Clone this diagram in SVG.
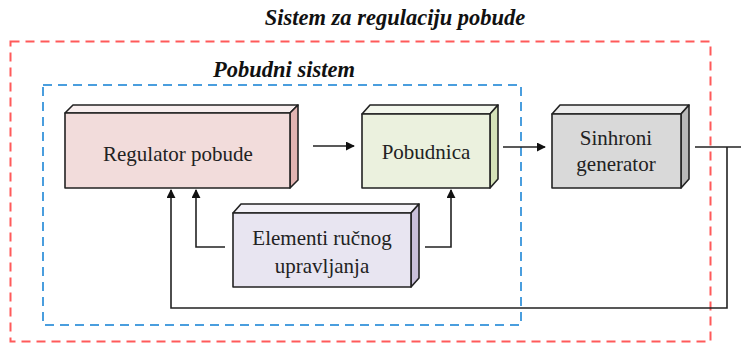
<svg xmlns="http://www.w3.org/2000/svg" width="741" height="343" viewBox="0 0 741 343">
<style>
.lbl{font-family:'Liberation Serif','DejaVu Serif',serif;font-size:21px;fill:#222;text-anchor:middle}
.ttl{font-family:'Liberation Serif','DejaVu Serif',serif;font-size:22.5px;font-weight:bold;font-style:italic;fill:#111;text-anchor:middle}
.edge{stroke:#222;stroke-width:1.6;fill:none}
.bx{stroke:#222;stroke-width:1.6;stroke-linejoin:round}
</style>
<defs>
<marker id="ah" viewBox="0 0 10 10" refX="9" refY="5" markerWidth="9" markerHeight="9" markerUnits="userSpaceOnUse" orient="auto">
<path d="M0,0 L10,5 L0,10 z" fill="#111"/>
</marker>
</defs>
<rect x="0" y="0" width="741" height="343" fill="#fff"/>
<text class="ttl" x="395" y="25">Sistem za regulaciju pobude</text>
<rect x="10.5" y="41.5" width="700" height="300" fill="none" stroke="#ff5a5a" stroke-width="2" stroke-dasharray="9,6"/>
<text class="ttl" x="284" y="77">Pobudni sistem</text>
<rect x="43" y="85" width="478" height="240" fill="none" stroke="#4a9ede" stroke-width="2" stroke-dasharray="9,6"/>

<g id="regulator">
<polygon class="bx" points="65,113 73,105 298,105 290,113" fill="#f8eeee"/>
<polygon class="bx" points="290,113 298,105 298,180 290,188" fill="#e2b4b2"/>
<rect class="bx" x="65" y="113" width="225" height="75" fill="#f2dcdb"/>
<text class="lbl" x="178" y="161">Regulator pobude</text>
</g>
<g id="pobudnica">
<polygon class="bx" points="362,114 370,105 498,105 490,114" fill="#f3f7ec"/>
<polygon class="bx" points="490,114 498,105 498,179 490,188" fill="#d5e2b8"/>
<rect class="bx" x="362" y="114" width="128" height="74" fill="#ebf1de"/>
<text class="lbl" x="426" y="159">Pobudnica</text>
</g>
<g id="sinhroni">
<polygon class="bx" points="552,114 560,105 689,105 681,114" fill="#ececec"/>
<polygon class="bx" points="681,114 689,105 689,179 681,188" fill="#b8b8b8"/>
<rect class="bx" x="552" y="114" width="129" height="74" fill="#d9d9d9"/>
<text class="lbl" x="616" y="145">Sinhroni</text>
<text class="lbl" x="616" y="171">generator</text>
</g>
<g id="elementi">
<polygon class="bx" points="233,213 241,204 419,204 411,213" fill="#f4f2f8"/>
<polygon class="bx" points="411,213 419,204 419,278 411,287" fill="#c9bfd9"/>
<rect class="bx" x="233" y="213" width="178" height="74" fill="#e8e5f1"/>
<text class="lbl" x="322" y="245">Elementi ručnog</text>
<text class="lbl" x="322" y="273">upravljanja</text>
</g>
<g id="connectors">
<line class="edge" x1="313" y1="146" x2="354" y2="146" marker-end="url(#ah)"/>
<line class="edge" x1="503" y1="147" x2="545" y2="147" marker-end="url(#ah)"/>
<polyline class="edge" points="695,147 741,147"/>
<polyline class="edge" points="727,147 727,308 171,308 171,190" marker-end="url(#ah)"/>
<polyline class="edge" points="225,247 196,247 196,190" marker-end="url(#ah)"/>
<polyline class="edge" points="425,247 451,247 451,190" marker-end="url(#ah)"/>
</g>
</svg>
